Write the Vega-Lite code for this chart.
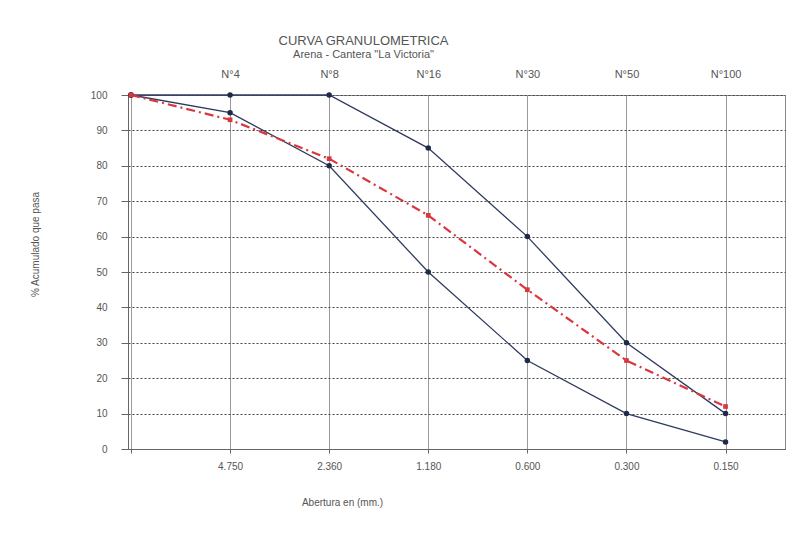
{
  "$schema": "https://vega.github.io/schema/vega-lite/v6.json",
  "autosize": {"type": "none"},
  "width": 657,
  "height": 354,
  "padding": {"left": 128, "top": 95, "right": 17, "bottom": 87},
  "background": "white",
  "title": {
    "text": "CURVA GRANULOMETRICA",
    "subtitle": "Arena - Cantera \"La Victoria\"",
    "anchor": "middle",
    "dx": -93,
    "offset": 8,
    "font": "Liberation Sans",
    "fontSize": 13,
    "fontWeight": "normal",
    "color": "#555555",
    "subtitleFont": "Liberation Sans",
    "subtitleFontSize": 11,
    "subtitleColor": "#555555",
    "subtitlePadding": 1
  },
  "config": {
    "view": {"stroke": "#888888", "strokeWidth": 1},
    "font": "Liberation Sans",
    "axis": {
      "labelFont": "Liberation Sans",
      "titleFont": "Liberation Sans",
      "labelColor": "#555555",
      "titleColor": "#555555",
      "labelFontSize": 10,
      "titleFontSize": 10,
      "titleFontWeight": "normal",
      "domainColor": "#666666",
      "tickColor": "#666666"
    }
  },
  "data": {
    "values": [
      {"idx": 0, "serie": "Limite superior", "pasa": 100},
      {"idx": 1, "serie": "Limite superior", "pasa": 100},
      {"idx": 2, "serie": "Limite superior", "pasa": 100},
      {"idx": 3, "serie": "Limite superior", "pasa": 85},
      {"idx": 4, "serie": "Limite superior", "pasa": 60},
      {"idx": 5, "serie": "Limite superior", "pasa": 30},
      {"idx": 6, "serie": "Limite superior", "pasa": 10},
      {"idx": 0, "serie": "Limite inferior", "pasa": 100},
      {"idx": 1, "serie": "Limite inferior", "pasa": 95},
      {"idx": 2, "serie": "Limite inferior", "pasa": 80},
      {"idx": 3, "serie": "Limite inferior", "pasa": 50},
      {"idx": 4, "serie": "Limite inferior", "pasa": 25},
      {"idx": 5, "serie": "Limite inferior", "pasa": 10},
      {"idx": 6, "serie": "Limite inferior", "pasa": 2},
      {"idx": 0, "serie": "Muestra", "pasa": 100},
      {"idx": 1, "serie": "Muestra", "pasa": 93},
      {"idx": 2, "serie": "Muestra", "pasa": 82},
      {"idx": 3, "serie": "Muestra", "pasa": 66},
      {"idx": 4, "serie": "Muestra", "pasa": 45},
      {"idx": 5, "serie": "Muestra", "pasa": 25},
      {"idx": 6, "serie": "Muestra", "pasa": 12}
    ]
  },
  "resolve": {"axis": {"x": "independent", "y": "independent"}},
  "layer": [
    {
      "transform": [{"filter": "datum.serie != 'Muestra'"}],
      "mark": {"type": "line", "color": "#2e3b5e", "strokeWidth": 1.3, "point": {"filled": true, "size": 30, "color": "#1f2a4a"}},
      "encoding": {
        "x": {
          "field": "idx", "type": "quantitative",
          "scale": {"domain": [-0.03, 6.6], "nice": false, "zero": false},
          "axis": {
            "orient": "bottom",
            "values": [0, 1, 2, 3, 4, 5, 6],
            "labelExpr": "['', '4.750', '2.360', '1.180', '0.600', '0.300', '0.150'][datum.value]",
            "grid": true, "gridColor": "#9a9a9a", "gridWidth": 1,
            "tickSize": 4, "labelPadding": 8,
            "title": "Abertura en (mm.)",
            "titleX": 214, "titleY": 53, "titleBaseline": "middle", "titleAnchor": "middle", "titleAlign": "center"
          }
        },
        "y": {
          "field": "pasa", "type": "quantitative",
          "scale": {"domain": [0, 100], "nice": false},
          "axis": {
            "orient": "left",
            "values": [0, 10, 20, 30, 40, 50, 60, 70, 80, 90, 100],
            "grid": true, "gridColor": "#444444", "gridDash": [2, 2], "gridWidth": 1,
            "tickSize": 7, "labelPadding": 14,
            "title": "% Acumulado que pasa",
            "titleX": -93, "titleY": 149, "titleAngle": -90, "titleAnchor": "middle", "titleAlign": "center", "titleBaseline": "middle"
          }
        },
        "detail": {"field": "serie"}
      }
    },
    {
      "transform": [{"filter": "datum.serie == 'Muestra'"}],
      "mark": {"type": "line", "color": "#d9363e", "strokeWidth": 2.2, "strokeDash": [9, 4, 2, 4], "point": {"filled": true, "shape": "square", "size": 22, "color": "#d9363e"}},
      "encoding": {
        "x": {
          "field": "idx", "type": "quantitative",
          "axis": {
            "orient": "top",
            "values": [1, 2, 3, 4, 5, 6],
            "labelExpr": "['', 'N°4', 'N°8', 'N°16', 'N°30', 'N°50', 'N°100'][datum.value]",
            "grid": false, "domain": false, "ticks": false, "labelPadding": 16, "labelFontSize": 11,
            "title": null
          }
        },
        "y": {
          "field": "pasa", "type": "quantitative",
          "axis": null
        }
      }
    }
  ]
}
